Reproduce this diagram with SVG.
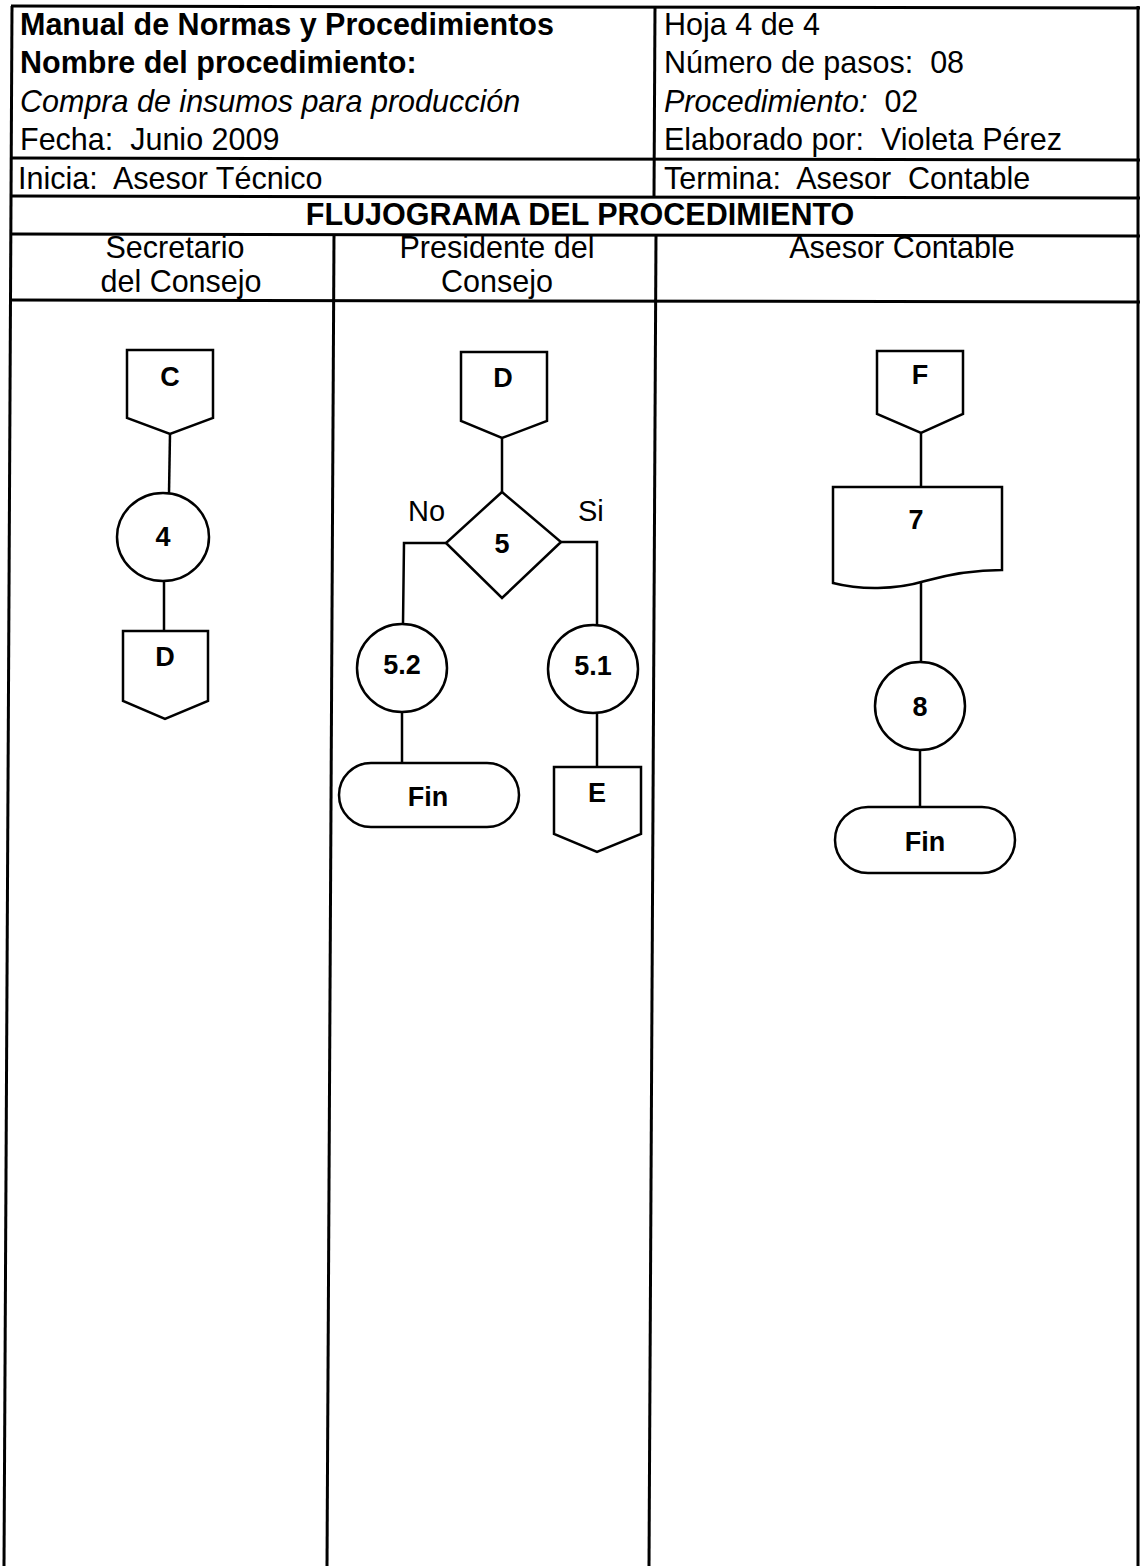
<svg xmlns="http://www.w3.org/2000/svg" width="1140" height="1566" viewBox="0 0 1140 1566">
<style>
.frame{stroke:#000;stroke-width:3;fill:none}
.shape{stroke:#000;stroke-width:2.5;fill:#fff}
.conn{stroke:#000;stroke-width:2.5;fill:none}
.t{font-family:"Liberation Sans",Arial,sans-serif;font-size:30.5px;fill:#000;white-space:pre}
.b{font-weight:bold}
.i{font-style:italic}
.c{text-anchor:middle}
.lbl{font-family:"Liberation Sans",Arial,sans-serif;font-size:27px;font-weight:bold;text-anchor:middle;fill:#000}
.yn{font-family:"Liberation Sans",Arial,sans-serif;font-size:29px;fill:#000}
</style>
<rect width="1140" height="1566" fill="#fff"/>
<g id="table">
<line class="frame" x1="12" y1="6" x2="4" y2="1566"/>
<line class="frame" x1="1138" y1="6" x2="1138" y2="1566"/>
<line class="frame" x1="11" y1="6" x2="1140" y2="8"/>
<line class="frame" x1="11" y1="158" x2="1140" y2="160"/>
<line class="frame" x1="11" y1="196" x2="1140" y2="198"/>
<line class="frame" x1="11" y1="234" x2="1140" y2="236"/>
<line class="frame" x1="10" y1="300" x2="1140" y2="302"/>
<line class="frame" x1="655" y1="6" x2="654" y2="196"/>
<line class="frame" x1="334" y1="234" x2="327" y2="1566"/>
<line class="frame" x1="656" y1="234" x2="649" y2="1566"/>
</g>
<g id="header-text">
<text class="t b" x="20" y="35">Manual de Normas y Procedimientos</text>
<text class="t b" x="20" y="73">Nombre del procedimiento:</text>
<text class="t i" x="20" y="112">Compra de insumos para producción</text>
<text class="t" x="20" y="150">Fecha:  Junio 2009</text>
<text class="t" x="18" y="189">Inicia:  Asesor Técnico</text>
<text class="t" x="664" y="35">Hoja 4 de 4</text>
<text class="t" x="664" y="73">Número de pasos:  08</text>
<text class="t" x="664" y="112"><tspan class="i">Procedimiento:</tspan>  02</text>
<text class="t" x="664" y="150">Elaborado por:  Violeta Pérez</text>
<text class="t" x="664" y="189">Termina:  Asesor  Contable</text>
<text class="t b c" x="580" y="225">FLUJOGRAMA DEL PROCEDIMIENTO</text>
<text class="t c" x="175" y="258">Secretario</text>
<text class="t c" x="181" y="292">del Consejo</text>
<text class="t c" x="497" y="258">Presidente del</text>
<text class="t c" x="497" y="292">Consejo</text>
<text class="t c" x="902" y="258">Asesor Contable</text>
</g>
<g id="connectors">
<line class="conn" x1="170" y1="434" x2="169" y2="493"/>
<line class="conn" x1="164" y1="580" x2="164" y2="631"/>
<line class="conn" x1="502" y1="438" x2="502" y2="492"/>
<polyline class="conn" points="446,543 404,543 403,624"/>
<polyline class="conn" points="561,542 597,542 597,625"/>
<line class="conn" x1="402" y1="712" x2="402" y2="763"/>
<line class="conn" x1="597" y1="714" x2="597" y2="767"/>
<line class="conn" x1="921" y1="433" x2="921" y2="487"/>
<line class="conn" x1="921" y1="583" x2="921" y2="662"/>
<line class="conn" x1="920" y1="750" x2="920" y2="807"/>
</g>
<g id="node-C">
<polygon class="shape" points="127,350 213,350 213,418 170,434 127,418"/>
<text class="lbl" x="170" y="386">C</text>
</g>
<g id="node-4">
<ellipse class="shape" cx="163" cy="537" rx="46" ry="44"/>
<text class="lbl" x="163" y="546">4</text>
</g>
<g id="node-D1">
<polygon class="shape" points="123,631 208,631 208,701 165,719 123,701"/>
<text class="lbl" x="165" y="666">D</text>
</g>
<g id="node-D2">
<polygon class="shape" points="461,352 547,352 547,421 502,438 461,421"/>
<text class="lbl" x="503" y="387">D</text>
</g>
<g id="node-5">
<polygon class="shape" points="502,492 561,542 502,598 446,543"/>
<text class="lbl" x="502" y="553">5</text>
</g>
<text class="yn" x="408" y="521">No</text>
<text class="yn" x="578" y="521">Si</text>
<g id="node-5-2">
<ellipse class="shape" cx="402" cy="668" rx="45" ry="44"/>
<text class="lbl" x="402" y="674">5.2</text>
</g>
<g id="node-5-1">
<ellipse class="shape" cx="593" cy="669" rx="45" ry="44"/>
<text class="lbl" x="593" y="675">5.1</text>
</g>
<g id="node-fin1">
<rect class="shape" x="339" y="763" width="180" height="64" rx="32" ry="32"/>
<text class="lbl" x="428" y="806">Fin</text>
</g>
<g id="node-E">
<polygon class="shape" points="554,767 641,767 641,834 597,852 554,834"/>
<text class="lbl" x="597" y="802">E</text>
</g>
<g id="node-F">
<polygon class="shape" points="877,351 963,351 963,414 921,433 877,414"/>
<text class="lbl" x="920" y="384">F</text>
</g>
<g id="node-7">
<path class="shape" d="M833,487 H1002 V570 C975,570 950,574 925,581 C895,590 860,590 833,583 Z"/>
<text class="lbl" x="916" y="529">7</text>
</g>
<g id="node-8">
<ellipse class="shape" cx="920" cy="706" rx="45" ry="44"/>
<text class="lbl" x="920" y="716">8</text>
</g>
<g id="node-fin2">
<rect class="shape" x="835" y="807" width="180" height="66" rx="33" ry="33"/>
<text class="lbl" x="925" y="851">Fin</text>
</g>
</svg>
